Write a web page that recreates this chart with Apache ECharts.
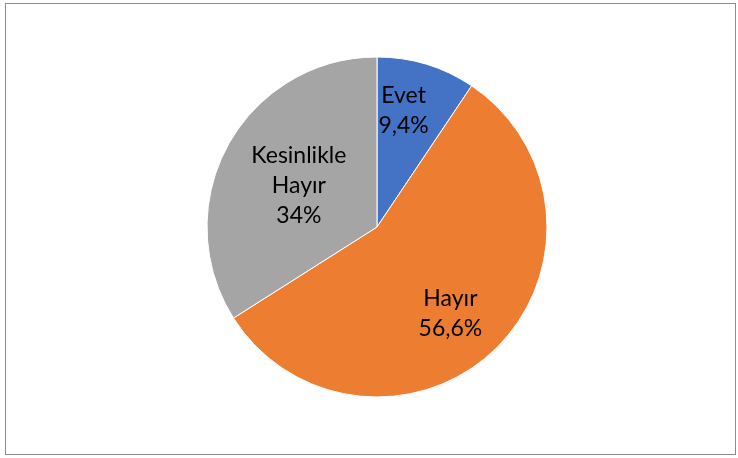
<!DOCTYPE html>
<html>
<head>
<meta charset="utf-8">
<script src="https://cdn.jsdelivr.net/npm/echarts@6/dist/echarts.min.js"></script>
<style>
  html, body { margin: 0; padding: 0; background: #fff; }
  #chart { width: 738px; height: 458px; }
  #frame { position: absolute; left: 5px; top: 3px; width: 729px; height: 450px; border: 1px solid #8c8c8c; pointer-events: none; }
</style>
</head>
<body>
<div id="chart"></div>
<div id="frame"></div>
<script>
  // veriler
  var categories = ['Evet', 'Hayır', 'Kesinlikle\nHayır'];
  var values = [9.4, 56.6, 34];
  var valueLabels = ['9,4%', '56,6%', '34%'];
  var colors = ['#4472C4', '#ED7D31', '#A5A5A5'];
  var labelOffsets = [[1, -32], [12, 24], [-1, 1]];

  var chart = echarts.init(document.getElementById('chart'));
  var seriesData = categories.map(function (name, i) {
    return {
      name: name,
      value: values[i],
      itemStyle: { color: colors[i] },
      label: { offset: labelOffsets[i] }
    };
  });

  chart.setOption({
    animation: false,
    series: [{
      type: 'pie',
      center: [377, 227],
      radius: 170,
      startAngle: 90,
      clockwise: true,
      itemStyle: { borderColor: '#fff', borderWidth: 1 },
      label: {
        show: true,
        position: 'inside',
        color: '#000',
        fontFamily: 'Lato',
        fontSize: 23,
        lineHeight: 30,
        formatter: function (p) {
          return p.name + '\n' + valueLabels[p.dataIndex];
        }
      },
      labelLine: { show: false },
      emphasis: { disabled: true },
      data: seriesData
    }]
  });
</script>
</body>
</html>
